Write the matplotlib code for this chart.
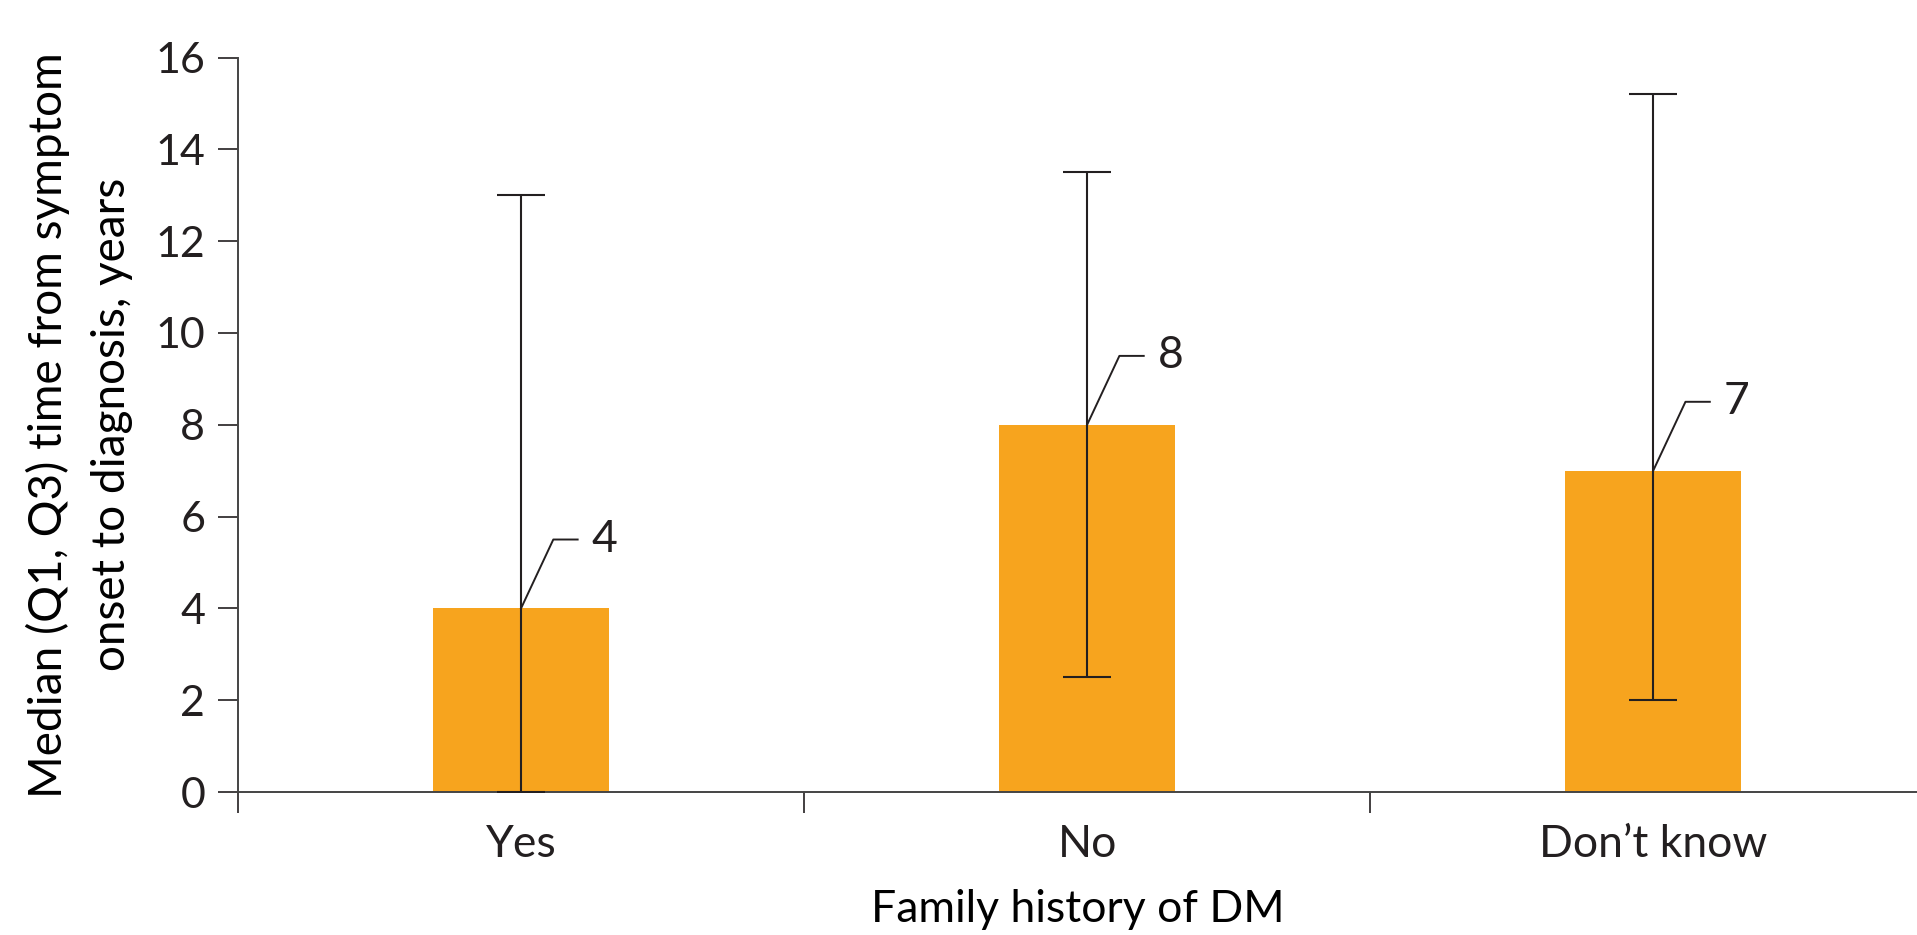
import numpy as np
import matplotlib.pyplot as plt

categories = ['Yes', 'No', 'Don\u2019t know']
median = [4, 8, 7]
q1 = [0, 2.5, 2]
q3 = [13, 13.5, 15.2]

ink = '#231F20'
orange = '#F7A41E'

plt.rcParams['font.family'] = ['Lato', 'DejaVu Sans']
plt.rcParams['text.color'] = ink

fig = plt.figure(figsize=(19.17, 9.35), dpi=100)
ax = fig.add_axes([0.12415, 0.15294, 0.87585, 0.78556])

x = np.arange(len(categories))
med = np.array(median)
lo = med - np.array(q1)
hi = np.array(q3) - med

ax.bar(x, med, width=0.31, color=orange, zorder=2)
ax.errorbar(x, med, yerr=[lo, hi], fmt='none', ecolor=ink, elinewidth=1.5,
            capsize=17, capthick=1.5, zorder=3)

# leader lines with value labels
for xi, v in zip(x, median):
    ax.plot([xi, xi + 0.057, xi + 0.10], [v, v + 1.5, v + 1.5], color=ink, lw=1.4, zorder=4)
    ax.text(xi + 0.125, v + 1.5, str(v), fontsize=32, va='center', ha='left', color=ink)

ax.set_xlim(-0.5, 2.466)
ax.set_ylim(0, 16)
ax.set_yticks(np.arange(0, 17, 2))
ax.tick_params(axis='y', labelsize=31, length=14.5, width=1.2, color=ink, pad=9, labelcolor=ink)

ax.set_xticks([-0.5, 0.5, 1.5])
ax.set_xticklabels([])
ax.set_xticks(x, minor=True)
ax.set_xticklabels(categories, minor=True)
ax.tick_params(axis='x', which='major', length=15, width=1.2, color=ink)
ax.tick_params(axis='x', which='minor', length=0, labelsize=32, pad=23, labelcolor=ink)

ax.spines['top'].set_visible(False)
ax.spines['right'].set_visible(False)
for s in ['left', 'bottom']:
    ax.spines[s].set_color('#444444')
    ax.spines[s].set_linewidth(1.4)

ax.set_xlabel('Family history of DM', fontsize=32, labelpad=17)
ax.set_ylabel('Median (Q1, Q3) time from symptom\nonset to diagnosis, years', fontsize=33,
              linespacing=1.6, va='center')
ax.yaxis.set_label_coords(-0.0945, 0.5)

fig.savefig('out.png', dpi=100)
